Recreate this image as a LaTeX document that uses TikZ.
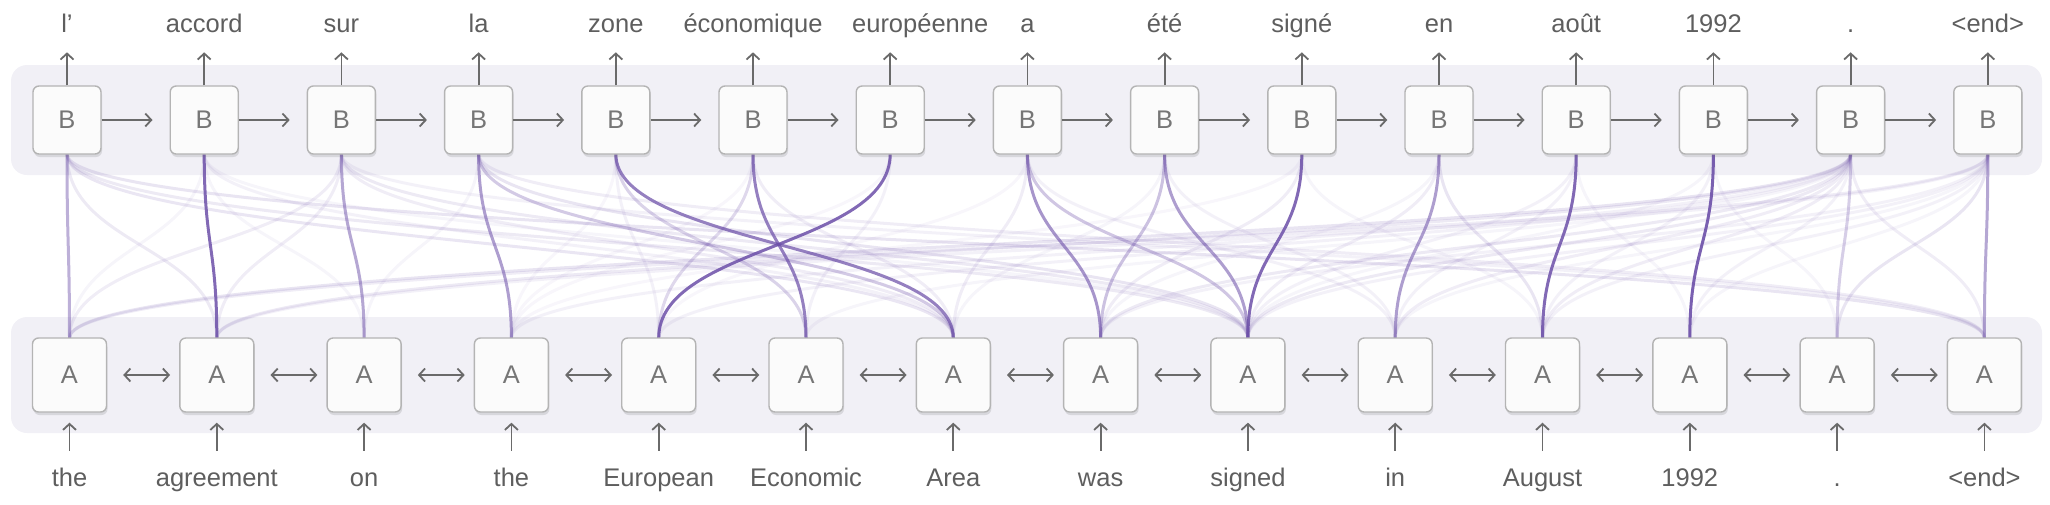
\documentclass[tikz,border=0pt]{standalone}
\usepackage{fontspec}
\setmainfont{Liberation Sans}
\usetikzlibrary{arrows.meta,shadows}
\definecolor{txtcol}{HTML}{5E5E5E}
\definecolor{arrcol}{HTML}{6A6A6A}
\definecolor{panelcol}{HTML}{F1F0F6}
\definecolor{boxfill}{HTML}{FBFBFB}
\definecolor{boxline}{HTML}{B4B4B4}
\definecolor{attcol}{HTML}{6C4FA8}
\tikzset{
  panel/.style={fill=panelcol,draw=none,rounded corners=16pt},
  cellbox/.style={draw=boxline,fill=boxfill,line width=1.4pt,rounded corners=6pt,
    text=txtcol!85,font=\fontsize{25.5}{30}\selectfont,inner sep=0pt,
    drop shadow={shadow xshift=1pt,shadow yshift=-3pt,opacity=0.18,fill=black!60}},
  bbox/.style={cellbox,minimum width=68pt,minimum height=68pt},
  abox/.style={cellbox,minimum width=74pt,minimum height=74pt},
  word/.style={text=txtcol,font=\fontsize{25.5}{30}\selectfont,anchor=base,inner sep=0pt},
  arr/.style={draw=arrcol,line width=1.8pt,-{Straight Barb[length=6pt,width=13pt]}},
  arrtwo/.style={draw=arrcol,line width=1.8pt,{Straight Barb[length=6pt,width=13pt]}-{Straight Barb[length=6pt,width=13pt]}},
  att/.style={draw=attcol,line width=3pt}
}
\begin{document}
\begin{tikzpicture}[x=1pt,y=-1pt]
\useasboundingbox (0,0) rectangle (2050,504);
% panels
\fill[panel] (11,65) rectangle (2042,175);
\fill[panel] (11,317) rectangle (2042,433);
% node positions (coordinates only, boxes drawn later)
\foreach \i in {1,...,15}{
  \pgfmathsetmacro{\bx}{67+137.2*(\i-1)}
  \coordinate (pb\i) at (\bx,120);
}
\foreach \j in {1,...,14}{
  \pgfmathsetmacro{\ax}{69.5+147.3*(\j-1)}
  \coordinate (pa\j) at (\ax,375);
}
% attention curves: from bottom of B (y=154) to top of A (y=338)
\foreach \b/\a/\o in {
  1/2/0.12, 1/7/0.14, 1/9/0.12, 1/14/0.15,
  2/1/0.06, 2/3/0.06, 2/7/0.08, 2/9/0.06,
  3/1/0.10, 3/2/0.10, 3/7/0.10, 3/9/0.12, 3/14/0.08,
  4/3/0.06, 4/9/0.15, 4/14/0.10,
  5/4/0.05, 5/5/0.08,
  6/4/0.05, 6/7/0.10,
  7/4/0.05, 7/6/0.08,
  8/5/0.05, 8/7/0.10, 8/10/0.08,
  9/7/0.06, 9/10/0.08,
  10/4/0.05, 10/8/0.10, 10/11/0.06,
  11/8/0.06, 11/9/0.10, 11/11/0.15,
  12/9/0.08, 12/10/0.08, 12/12/0.06,
  13/9/0.06, 13/11/0.08, 13/13/0.06,
  14/1/0.15, 14/2/0.12, 14/4/0.08, 14/5/0.08, 14/6/0.06, 14/8/0.12, 14/9/0.12,
  14/10/0.10, 14/11/0.10, 14/12/0.08, 14/14/0.10,
  15/1/0.10, 15/2/0.08, 15/8/0.08, 15/9/0.08, 15/10/0.06, 15/11/0.08, 15/12/0.06, 15/13/0.15,
  4/7/0.30, 5/6/0.25, 6/5/0.22, 8/9/0.32, 9/8/0.35, 14/13/0.28,
  1/1/0.45, 3/3/0.50, 4/4/0.55, 11/10/0.55, 15/14/0.50, 8/8/0.60, 9/9/0.55,
  5/7/0.72, 6/6/0.72, 7/5/0.85, 10/9/0.85, 2/2/0.85, 12/11/0.85, 13/12/0.90}{
  \draw[att,draw opacity=\o] ([yshift=-34pt]pb\b) .. controls +(0,92) and +(0,-92) .. ([yshift=37pt]pa\a);
}
% B boxes and top words (européenne is pushed right in the reference)
\foreach \w/\dx [count=\i] in {l’/0,accord/0,sur/0,la/0,zone/0,économique/0,européenne/30,a/0,été/0,signé/0,en/0,août/0,1992/0,./0,<end>/0}{
  \node[bbox] (b\i) at (pb\i) {B};
  \node[word] (t\i) at ([xshift=\dx pt,yshift=88pt]pb\i) {\w};
  \draw[arr] (b\i.north) -- ([yshift=33pt]b\i.north);
}
\foreach \i [evaluate=\i as \k using int(\i+1)] in {1,...,14}{
  \draw[arr] (b\i.east) -- ([xshift=-17pt]b\k.west);
}
% A boxes and bottom words
\foreach \w [count=\j] in {the,agreement,on,the,European,Economic,Area,was,signed,in,August,1992,.,<end>}{
  \node[abox] (a\j) at (pa\j) {A};
  \node[word] (s\j) at ([yshift=-111pt]pa\j) {\w};
  \draw[arr] ([yshift=-38pt]a\j.south) -- ([yshift=-10pt]a\j.south);
}
\foreach \j [evaluate=\j as \k using int(\j+1)] in {1,...,13}{
  \draw[arrtwo] ([xshift=16pt]a\j.east) -- ([xshift=-9pt]a\k.west);
}
\end{tikzpicture}
\end{document}
